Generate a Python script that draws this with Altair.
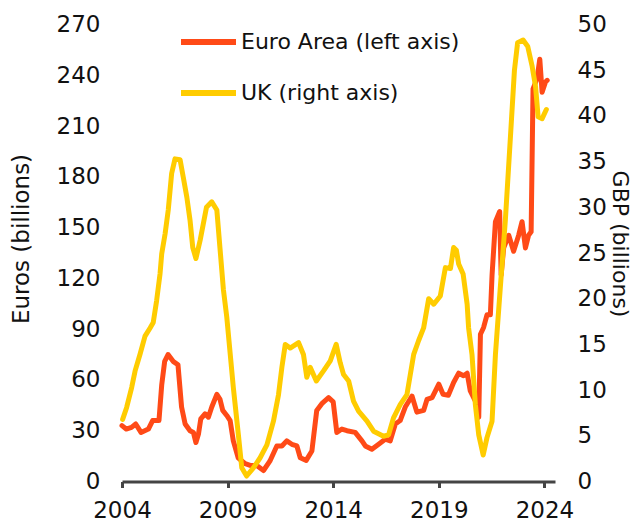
import altair as alt
import pandas as pd

series_names = ["Euro Area (left axis)", "UK (right axis)"]
series_colors = ["#FF4A17", "#FFCC00"]
x_ticks = [2004, 2009, 2014, 2019, 2024]
left_ticks = [0, 30, 60, 90, 120, 150, 180, 210, 240, 270]
right_ticks = [0, 5, 10, 15, 20, 25, 30, 35, 40, 45, 50]

euro_years = [2004.0, 2004.2, 2004.45, 2004.65, 2004.9, 2005.25, 2005.45, 2005.75, 2005.88,
              2006.02, 2006.18, 2006.42, 2006.65, 2006.82, 2006.99, 2007.22, 2007.38, 2007.5,
              2007.62, 2007.73, 2007.93, 2008.09, 2008.25, 2008.49, 2008.64, 2008.77, 2008.96,
              2009.12, 2009.27, 2009.5, 2009.83, 2010.07, 2010.38, 2010.7, 2011.0, 2011.33,
              2011.57, 2011.8, 2012.04, 2012.28, 2012.44, 2012.72, 2012.99, 2013.22, 2013.46,
              2013.78, 2014.0, 2014.17, 2014.41, 2014.65, 2015.04, 2015.36, 2015.52, 2015.83,
              2016.15, 2016.46, 2016.7, 2016.94, 2017.17, 2017.41, 2017.73, 2017.96, 2018.28,
              2018.44, 2018.68, 2019.0, 2019.2, 2019.45, 2019.7, 2019.94, 2020.17, 2020.34,
              2020.49, 2020.73, 2020.89, 2020.97, 2021.12, 2021.28, 2021.44, 2021.52, 2021.68,
              2021.88, 2021.95, 2022.07, 2022.31, 2022.54, 2022.78, 2022.94, 2023.1, 2023.25,
              2023.37, 2023.46, 2023.65, 2023.78, 2023.89, 2024.05, 2024.13]
euro_values = [33, 31, 32, 34, 29, 31, 36, 36, 57,
               71, 75, 71, 69, 44, 34, 30, 29, 23,
               28, 37, 40, 38, 44, 51.5, 48.5, 42, 39,
               36, 24, 14, 10.5, 9.5, 9.5, 6.5, 12, 21,
               21, 24, 22, 21, 14, 12.5, 18, 42, 46,
               49.5, 47, 29, 31, 30, 29, 24, 21, 19,
               22, 25, 24, 34, 36, 44, 50.5, 41, 42,
               48.5, 49.5, 57.5, 51.5, 51, 58.5, 64, 62.5, 64,
               53.5, 47.5, 38, 87, 91, 98.5, 98.5, 122, 153.5,
               159.5, 122, 138, 145.5, 136, 145.5, 153.5, 138, 145.5,
               147.5, 232, 238, 249.5, 230, 236, 237]

uk_years = [2004.03, 2004.22, 2004.46, 2004.62, 2004.85, 2005.09, 2005.33, 2005.48, 2005.64,
            2005.8, 2005.88, 2006.04, 2006.19, 2006.35, 2006.51, 2006.75, 2006.9, 2007.07,
            2007.22, 2007.35, 2007.5, 2007.7, 2007.85, 2008.0, 2008.25, 2008.49, 2008.64,
            2008.8, 2008.96, 2009.27, 2009.51, 2009.67, 2009.9, 2010.22, 2010.54, 2010.86,
            2011.17, 2011.41, 2011.57, 2011.73, 2011.96, 2012.36, 2012.59, 2012.75, 2012.91,
            2013.2, 2013.54, 2013.86, 2014.14, 2014.33, 2014.49, 2014.73, 2014.96, 2015.2,
            2015.6, 2015.91, 2016.38, 2016.62, 2016.86, 2017.17, 2017.49, 2017.81, 2018.04,
            2018.28, 2018.52, 2018.76, 2019.07, 2019.31, 2019.55, 2019.7, 2019.83, 2019.94,
            2020.15, 2020.34, 2020.41, 2020.57, 2020.73, 2020.89, 2021.1, 2021.28, 2021.52,
            2021.68, 2021.91, 2022.15, 2022.39, 2022.58, 2022.73, 2022.99, 2023.21, 2023.42,
            2023.58, 2023.7, 2023.89, 2024.09]
uk_values = [6.8, 8.1, 10.3, 12.1, 13.9, 15.9, 16.8, 17.4, 19.8,
             22.7, 24.9, 27.1, 29.7, 33.7, 35.3, 35.2, 33.3, 31.1,
             28.6, 25.6, 24.4, 26.4, 28.2, 30.0, 30.6, 29.7, 25.5,
             21.0, 18.0, 10.3, 5.1, 1.5, 0.6, 1.5, 2.6, 4.0,
             6.6, 9.5, 12.5, 15.0, 14.6, 15.2, 13.9, 11.4, 12.5,
             11.0, 12.1, 13.2, 15.0, 13.0, 11.7, 11.0, 8.8, 7.7,
             6.6, 5.5, 4.95, 5.1, 7.0, 8.4, 9.5, 13.9, 15.4,
             16.8, 20.0, 19.4, 20.3, 23.4, 23.3, 25.6, 25.3, 23.8,
             22.7, 19.4, 16.8, 13.9, 8.4, 5.1, 2.9, 4.8, 6.6,
             13.9, 21.2, 28.6, 37.7, 45.0, 48.0, 48.3, 47.6, 45.4,
             43.2, 39.9, 39.7, 40.7]

euro_df = pd.DataFrame({"year": euro_years, "value": euro_values, "series": series_names[0]})
uk_df = pd.DataFrame({"year": uk_years, "value": uk_values, "series": series_names[1]})

FONT = "DejaVu Sans"
TXT = "#111111"

color = alt.Color(
    "series:N",
    scale=alt.Scale(domain=series_names, range=series_colors),
    legend=alt.Legend(
        title=None, orient="none", legendX=56, legendY=-13,
        symbolType="stroke", symbolSize=3025, symbolStrokeWidth=6,
        labelFontSize=22, labelOffset=2, labelLimit=500, labelColor=TXT,
        rowPadding=8, padding=0,
    ),
)

x_enc = alt.X(
    "year:Q",
    scale=alt.Scale(domain=[2004, 2024.5], nice=False, zero=False),
    axis=alt.Axis(
        values=x_ticks, format="d", title=None, grid=False,
        domain=True, ticks=True, labelFlush=False,
        domainColor="#444444", domainWidth=3, domainOpacity=1,
        tickColor="#444444", tickWidth=3, tickOpacity=1,
        tickSize=6, labelFontSize=23, labelPadding=12, labelColor=TXT,
    ),
)

euro = alt.Chart(euro_df).mark_line(strokeWidth=5, strokeJoin="round", strokeCap="round").encode(
    x=x_enc,
    y=alt.Y(
        "value:Q",
        scale=alt.Scale(domain=[0, 270], nice=False),
        axis=alt.Axis(
            values=left_ticks, orient="left", title="Euros (billions)", grid=False,
            domain=False, ticks=False, labelPadding=22, labelFontSize=23,
            labelColor=TXT, titleFontSize=23, titleFontWeight="normal", titleColor=TXT,
            titleX=-89, titleY=214,
        ),
    ),
    color=color,
)

uk = alt.Chart(uk_df).mark_line(strokeWidth=5, strokeJoin="round", strokeCap="round").encode(
    x=x_enc,
    y=alt.Y(
        "value:Q",
        scale=alt.Scale(domain=[0, 50], nice=False),
        axis=alt.Axis(
            values=right_ticks, orient="right", title="GBP (billions)", grid=False,
            domain=False, ticks=False, labelPadding=22, labelFontSize=23,
            labelColor=TXT, titleFontSize=22, titleFontWeight="normal", titleColor=TXT,
            titleAngle=90, titleX=52, titleY=219,
        ),
    ),
    color=color,
)

chart = (
    alt.layer(euro, uk)
    .resolve_scale(y="independent")
    .properties(
        width=433, height=457,
        padding={"left": 114, "top": 16.5, "right": 80, "bottom": 40},
        autosize=alt.AutoSizeParams(type="none"),
    )
    .configure(font=FONT)
    .configure_view(strokeWidth=0)
)

chart.save("out.html", embed_options={"renderer": "svg", "actions": False})
